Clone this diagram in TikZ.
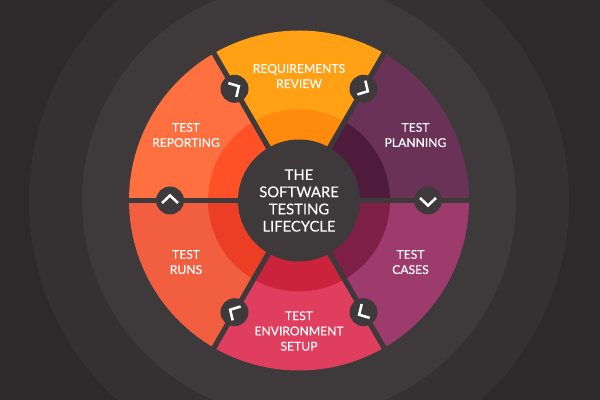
\documentclass[tikz,border=0pt]{standalone}
\usepackage{fontspec}
\setmainfont[FakeBold=0.2]{Lato}
\definecolor{bgA}{HTML}{2E2A2B}
\definecolor{bgB}{HTML}{353132}
\definecolor{hub}{HTML}{3E3A3B}
\tikzset{
  x=0.75pt,y=0.75pt,
  lbl/.style={text=white,align=center,font=\fontsize{9.1}{11.4}\selectfont},
  hublbl/.style={text=white,align=center,font=\fontsize{11.1}{12.9}\selectfont},
  hubdisc/.style={circle,fill=hub,minimum size=91.5pt,inner sep=0pt},
  knob/.style={circle,fill=hub,minimum size=21pt,inner sep=0pt},
  chev/.style={draw=white,line width=1.9pt,miter limit=10},
  spoke/.style={draw=hub,line width=3.9pt}
}
\newcommand{\seg}[4]{%
  \fill[#3] (c) -- ++(#1:170) arc[start angle=#1,end angle=#2,radius=170] -- cycle;
  \fill[#4] (c) -- ++(#1:91) arc[start angle=#1,end angle=#2,radius=91] -- cycle;
}
\newcommand{\knobat}[2]{%
  \node[knob] (k#1) at ($(c)+(#1:129)$) {};
  \draw[chev,shift={(k#1.center)},rotate=#2] (-2.5,8) -- (5,0) -- (-2.5,-8);
}
\definecolor{reqA}{HTML}{FFA015}\definecolor{reqB}{HTML}{FF8A0C}
\definecolor{repA}{HTML}{FF7041}\definecolor{repB}{HTML}{FF5128}
\definecolor{runA}{HTML}{F25F40}\definecolor{runB}{HTML}{EC3E24}
\definecolor{envA}{HTML}{E03E5E}\definecolor{envB}{HTML}{CC233C}
\definecolor{casA}{HTML}{9C3B6C}\definecolor{casB}{HTML}{7E1F46}
\definecolor{plaA}{HTML}{6B3258}\definecolor{plaB}{HTML}{4E1B3C}
\usetikzlibrary{calc}
\begin{document}
\begin{tikzpicture}
\useasboundingbox (0,0) rectangle (600,400);
\fill[bgA] (0,0) rectangle (600,400);
\coordinate (c) at (299,199.5);
\begin{scope}
\clip (0,0) rectangle (600,400);
\fill[bgB] (c) circle[radius=270];
\fill[hub] (c) circle[radius=217];
\end{scope}
\seg{60}{120}{reqA}{reqB}
\seg{120}{180}{repA}{repB}
\seg{180}{240}{runA}{runB}
\seg{240}{300}{envA}{envB}
\seg{300}{360}{casA}{casB}
\seg{0}{60}{plaA}{plaB}
\foreach \a in {0,60,...,300}{
  \coordinate (e\a) at ($(c)+(\a:172)$);
  \draw[spoke] (c) -- (e\a);
}
\node[hubdisc] (hubn) at (c) {};
\node[hublbl] (hubt) at (299,199.5) {THE\\SOFTWARE\\TESTING\\LIFECYCLE};
\knobat{0}{-90}
\knobat{60}{-30}
\knobat{120}{30}
\knobat{180}{90}
\knobat{240}{150}
\knobat{300}{210}
\node[lbl] (req) at (299,324) {REQUIREMENTS\\REVIEW};
\node[lbl] (pla) at (415.5,265) {TEST\\PLANNING};
\node[lbl] (rep) at (186,265) {TEST\\REPORTING};
\node[lbl] (run) at (186,138) {TEST\\RUNS};
\node[lbl] (cas) at (410.5,138) {TEST\\CASES};
\node[lbl] (env) at (299,69) {TEST\\ENVIRONMENT\\SETUP};
\end{tikzpicture}
\end{document}
